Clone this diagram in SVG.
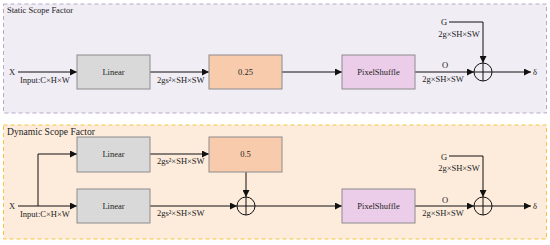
<svg xmlns="http://www.w3.org/2000/svg" width="550" height="245" viewBox="0 0 550 245">
<style>
text{font-family:"Liberation Serif","Times New Roman",serif;font-size:8.5px;fill:#222}
.c{text-anchor:middle}
.box{stroke:#8c8c8c;stroke-width:1}
.ln{stroke:#111;stroke-width:1;fill:none}
.circ{stroke:#111;stroke-width:1;fill:none}
</style>
<defs>
<marker id="ah" viewBox="0 0 10 10" refX="10" refY="5" markerWidth="7" markerHeight="7" markerUnits="userSpaceOnUse" orient="auto"><path d="M0,0L10,5L0,10z" fill="#111"/></marker>
</defs>
<g id="panel-static">
<rect x="3.5" y="4" width="543" height="109" fill="#f1edf5" stroke="#b6a9c9" stroke-dasharray="4,3"/>
<text x="7" y="13">Static Scope Factor</text>
</g>
<g id="panel-dynamic">
<rect x="3.5" y="125" width="543" height="114" fill="#fdecdc" stroke="#f5c443" stroke-dasharray="4,3"/>
<text x="7" y="135" style="font-size:9.6px">Dynamic Scope Factor</text>
</g>
<g id="connectors">
<path class="ln" d="M18,72H77" marker-end="url(#ah)"/>
<path class="ln" d="M150,72H209" marker-end="url(#ah)"/>
<path class="ln" d="M282,72H342" marker-end="url(#ah)"/>
<path class="ln" d="M415,72H474" marker-end="url(#ah)"/>
<path class="ln" d="M449,22H483V63" marker-end="url(#ah)"/>
<path class="ln" d="M492,72H531" marker-end="url(#ah)"/>
<path class="ln" d="M18,206H77" marker-end="url(#ah)"/>
<path class="ln" d="M38,206V154H77" marker-end="url(#ah)"/>
<path class="ln" d="M150,154H209" marker-end="url(#ah)"/>
<path class="ln" d="M150,206H237" marker-end="url(#ah)"/>
<path class="ln" d="M246,172V197" marker-end="url(#ah)"/>
<path class="ln" d="M255,206H342" marker-end="url(#ah)"/>
<path class="ln" d="M415,206H474" marker-end="url(#ah)"/>
<path class="ln" d="M449,156H483V197" marker-end="url(#ah)"/>
<path class="ln" d="M492,206H531" marker-end="url(#ah)"/>
</g>
<g id="static-labels">
<text x="9" y="75">X</text>
<text x="20" y="83">Input:C×H×W</text>
<text x="157" y="83">2gs²×SH×SW</text>
<text class="c" x="445" y="68">O</text>
<text class="c" x="443" y="82">2g×SH×SW</text>
<text class="c" x="444" y="25">G</text>
<text class="c" x="459" y="37">2g×SH×SW</text>
<text x="533" y="75">δ</text>
</g>
<g id="s-linear"><rect class="box" x="77" y="55" width="73" height="34" fill="#d9d9d9"/><text class="c" x="113.5" y="75">Linear</text></g>
<g id="s-scale"><rect class="box" x="209" y="55" width="73" height="34" fill="#f8cbad" stroke="#c49a80"/><text class="c" x="245.5" y="75">0.25</text></g>
<g id="s-pixelshuffle"><rect class="box" x="342" y="55" width="73" height="34" fill="#eccde9"/><text class="c" x="378.5" y="75">PixelShuffle</text></g>
<g id="s-add"><circle class="circ" cx="483" cy="72" r="9"/><path class="ln" d="M474,72H492M483,63V81"/></g>
<g id="dynamic-labels">
<text x="9" y="209">X</text>
<text x="20" y="217">Input:C×H×W</text>
<text x="157" y="164">2gs²×SH×SW</text>
<text x="157" y="216">2gs²×SH×SW</text>
<text class="c" x="445" y="203">O</text>
<text class="c" x="443" y="216">2g×SH×SW</text>
<text class="c" x="444" y="160">G</text>
<text class="c" x="459" y="171">2g×SH×SW</text>
<text x="533" y="209">δ</text>
</g>
<g id="d-linear1"><rect class="box" x="77" y="137" width="73" height="35" fill="#d9d9d9"/><text class="c" x="113.5" y="157">Linear</text></g>
<g id="d-scale"><rect class="box" x="209" y="137" width="73" height="35" fill="#f8cbad" stroke="#c49a80"/><text class="c" x="245.5" y="157">0.5</text></g>
<g id="d-linear2"><rect class="box" x="77" y="189" width="73" height="34" fill="#d9d9d9"/><text class="c" x="113.5" y="209">Linear</text></g>
<g id="d-add1"><circle class="circ" cx="246" cy="206" r="9"/><path class="ln" d="M237,206H255M246,197V215"/></g>
<g id="d-pixelshuffle"><rect class="box" x="342" y="189" width="73" height="34" fill="#eccde9"/><text class="c" x="378.5" y="209">PixelShuffle</text></g>
<g id="d-add2"><circle class="circ" cx="483" cy="206" r="9"/><path class="ln" d="M474,206H492M483,197V215"/></g>
</svg>
